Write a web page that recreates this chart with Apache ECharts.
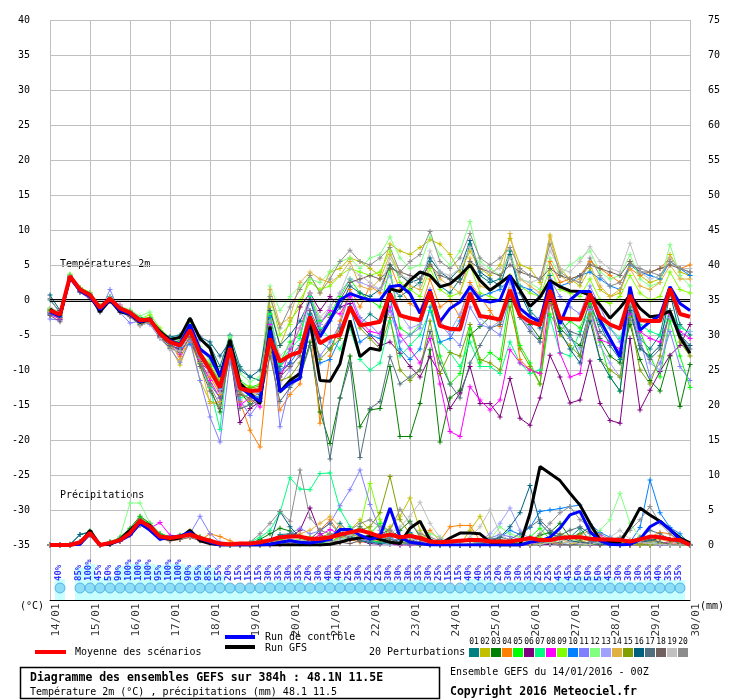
<!DOCTYPE html>
<html lang="fr">
<head>
<meta charset="UTF-8">
<title>Diagramme des ensembles GEFS</title>
<style>
  html, body { margin: 0; padding: 0; background: #fff; }
  #chart { width: 740px; height: 700px; }
</style>
</head>
<body>
<div id="chart"></div>
<script src="https://cdn.jsdelivr.net/npm/echarts@6/dist/echarts.min.js"></script>
<script>
// 6-hourly steps, 14/01 00Z -> 30/01 00Z (65 points)
const DAYS = ['14/01','15/01','16/01','17/01','18/01','19/01','20/01','21/01','22/01',
              '23/01','24/01','25/01','26/01','27/01','28/01','29/01','30/01'];

// temperature 2m (°C)
const T_MEAN = [-1.5,-2.1,3.4,1.5,0.7,-1.1,0.2,-1.2,-1.8,-2.9, -2.8,-4.8,-6.0,-6.5,-4.3,-7.7,-10.0,-12.5,-6.9,-12.6,
  -13.0,-12.9,-5.5,-8.8,-7.9,-7.4,-2.4,-6.2,-5.3,-5.0, -1.0,-3.6,-3.4,-3.1,0.9,-2.2,-2.6,-2.9,1.2,-3.7,
  -4.1,-4.2,1.0,-2.3,-2.5,-2.8,1.4,-2.2,-3.1,-3.6, 1.4,-2.6,-2.7,-2.8,0.9,-2.4,-3.5,-4.1,0.7,-2.9, -3.0,-3.0,1.6,-2.0,-2.4];
const T_GFS = [-1.3,-2.3,3.3,1.5,0.8,-1.7,0.0,-1.7,-2.0,-3.2, -2.8,-4.5,-5.7,-5.3,-2.6,-5.5,-6.9,-11.0,-5.7,-11.9,
  -13.3,-14.8,-3.8,-13.1,-11.5,-10.5,-2.9,-11.5,-11.6,-9.1, -2.9,-8.1,-6.9,-7.2,1.6,1.2,2.8,4.0,3.5,1.9,
  2.3,3.5,5.0,2.8,1.4,2.4,3.5,1.4,-0.9,0.4, 2.8,1.9,1.3,1.2,0.7,-0.7,-2.6,-1.1,0.7,-1.2, -2.4,-2.2,-1.6,-5.3,-7.6];
const T_CTRL = [-1.7,-2.3,3.2,1.3,0.5,-1.4,0.0,-1.5,-2.0,-3.1, -2.7,-4.9,-5.8,-6.3,-3.5,-7.0,-8.1,-10.9,-6.7,-12.4,
  -13.6,-14.5,-4.3,-13.1,-11.9,-11.2,-2.4,-5.3,-2.9,0.0, 0.9,0.4,0.0,0.0,1.9,2.1,0.9,-1.9,1.4,-3.1,
  -1.2,-0.3,1.9,0.0,-0.3,0.0,3.5,-1.2,-2.4,-3.1, 2.6,-3.4,0.0,1.2,1.2,-2.9,-5.5,-8.1,1.9,-4.3, -3.1,-2.2,1.9,-0.5,-1.5];

// precipitation (mm)
const P_MEAN = [0.0,0.0,0.0,0.4,1.7,0.0,0.3,0.7,1.7,3.5, 2.6,1.2,1.0,1.2,1.5,1.0,0.6,0.2,0.1,0.2,
  0.2,0.4,0.7,1.1,1.2,1.2,0.9,0.9,1.1,1.5, 1.8,2.1,1.7,1.2,1.5,1.1,1.3,1.0,0.5,0.4,
  0.5,0.6,0.7,0.7,0.5,0.5,0.5,0.7,1.0,0.7, 0.7,1.0,1.1,1.1,0.9,0.8,0.8,0.7,0.5,0.8, 1.2,1.1,0.8,0.7,0.0];
const P_GFS = [0,0,0,0.2,2.1,0,0.1,0.8,2.1,3.4, 2.8,1.1,0.8,1.0,2.1,0.6,0.2,0,0,0, 0,0,
  0,0,0,0,0,0,0.1,0.4,0.8,1.0, 1.2,0.8,0.4,0.2,2.4,3.4,0.7,0.1,1.0,1.7,
  1.7,1.6,0.4,0,0,0,4.5,11.2,10.2,9.2, 7.4,5.7,3.1,0.7,0.4,0.4,2.6,5.3,4.3,3.4, 2.2,1.0,0.3];
const P_CTRL = [0,0,0,0.1,1.6,0,0.2,0.6,1.4,3.1, 2.1,0.8,1.1,1.3,1.8,0.9,0.4,0,0,0, 0,0,
  0.1,0.4,0.6,0.4,0.3,0.5,0.8,2.2,2.2,1.4, 0.8,1.2,5.3,1.1,0.4,0.2,0,0,0,0,
  0,0,0,0,0,0,0.4,0.6,1.1,2.4, 4.3,4.8,1.9,0.6,0.1,0,0.1,0.8,2.6,3.4, 2.2,0.8,0];

// 20 perturbations, temperature
const T_PERT = [
  [0.0,-1.7,3.3,1.8,1.0,-0.8,0.5,-1.0,-1.5,-2.5,-3.0,-4.4,-5.3,-5.0,-2.8,-5.7,-6.5,-9.5,-5.0,-9.5,-11.0,-11.5,
   -3.0,-9.5,-8.0,-6.5,-2.0,-6.0,-7.0,-4.0,-1.0,-3.5, -2.0,-3.0,2.0,0.5,1.5,2.5,5.5,2.0,1.0,3.0,
   8.0,3.5,2.5,3.0,7.0,1.5,-1.5,-3.0,3.5,-2.5, -5.0,-8.0,-1.0,-3.5,-6.5,-8.5,0.5,-5.5,-7.0,-5.0, 1.5,-3.5,-5.0],
  [-1.9,-2.5,3.1,1.3,0.5,-1.3,-0.1,-1.6,-2.1,-3.4,-3.3,-5.1,-6.7,-9.3,-5.5,-11.5,-14.5,-15.0,-7.5,-13.5,-14.5,-14.0,
   -1.0,-6.5,-3.0,-1.0,3.5,1.0,4.0,4.5,6.0,5.5, 4.5,3.5,8.0,7.0,6.5,7.5,8.6,8.0,6.5,4.0,
   7.0,4.5,3.5,5.0,8.8,5.0,4.5,2.5,9.3,4.5, 3.0,2.0,4.5,1.5,0.5,1.0,5.5,3.5,2.5,3.0, 6.5,4.0,3.5],
  [-1.5,-2.0,3.5,1.6,0.8,-1.2,0.4,-1.1,-1.7,-2.6,-3.1,-5.3,-6.5,-7.1,-4.7,-8.5,-12.5,-16.0,-7.0,-13.0,-15.0,-13.5,
   -6.5,-13.0,-12.0,-11.0,-6.0,-16.0,-20.5,-14.0,-8.0,-18.1, -15.7,-15.5,-9.5,-19.5,-19.5,-14.8,-7.1,-20.3,-14.0,-12.9,
   -5.0,-3.8,-2.4,-3.0,1.0,-2.0,-3.5,-5.5,0.5,-4.0, -5.5,-6.5,-1.5,-5.5,-8.0,-9.0,-3.5,-8.5,-11.5,-13.0, -8.0,-15.2,-9.2],
  [-1.8,-2.6,3.2,1.4,0.6,-1.0,0.1,-1.4,-1.9,-3.0,-2.9,-4.9,-6.3,-8.1,-6.0,-9.1,-11.0,-13.5,-8.0,-14.5,-18.6,-21.0,
   -7.0,-15.7,-13.5,-12.0,-3.0,-17.6,-8.0,-3.0,1.5,-1.0, 2.0,1.0,5.0,1.5,-0.5,-1.5,3.0,-1.0,0.0,-2.5,
   2.5,0.5,-1.5,-3.8,1.5,-8.5,-10.0,-10.5,5.5,2.5, 3.0,3.5,5.5,4.5,3.5,2.5,4.5,3.5,4.0,4.5, 6.0,4.5,5.0],
  [-1.3,-1.9,3.6,1.7,0.9,-0.9,0.3,-1.0,-1.6,-2.7,-2.5,-4.6,-5.7,-6.0,-3.5,-7.5,-9.5,-12.0,-6.0,-11.5,-12.5,-12.0,
   -2.0,-9.0,-6.0,-5.0,0.5,-3.0,-2.0,0.5,3.0,1.0, 0.0,-1.0,4.5,-4.0,-5.0,-3.5,0.5,-8.0,-12.0,-10.5,
   -4.0,-9.0,-7.5,-8.5,0.5,-6.5,-9.0,-12.0,-2.0,-4.5, -3.0,-4.0,-0.5,-6.0,-11.0,-13.0,-1.0,-4.5,-8.0,-11.0, -3.0,-8.0,-12.5],
  [-1.7,-2.8,3.3,1.4,0.6,-1.4,-0.2,-1.5,-2.3,-3.2,-3.0,-5.1,-6.5,-7.0,-4.9,-8.8,-10.3,-13.0,-7.5,-17.5,-15.5,-14.5,
   -5.5,-10.5,-9.0,-1.0,1.0,-1.5,0.5,-1.0,-0.5,-3.5, -5.0,-6.5,-6.0,-7.6,-9.5,-11.0,-8.1,-10.5,-15.5,-13.3,
   -9.5,-14.8,-14.8,-16.7,-11.2,-16.9,-17.9,-14.0,-7.9,-11.0, -14.7,-14.3,-8.7,-14.8,-17.2,-17.6,-5.5,-15.7,-12.9,-10.2, -7.9,-6.5,-3.5],
  [-1.6,-2.2,3.4,1.5,0.7,-1.1,0.3,-1.2,-1.7,-2.8,-2.7,-4.7,-5.9,-6.7,-3.8,-9.0,-12.5,-18.5,-5.3,-14.0,-13.5,-12.5,
   -2.0,-9.0,-7.0,-5.5,0.5,-4.0,-5.5,-7.0,-4.0,-8.5, -10.0,-9.0,-3.0,-8.0,-6.5,-5.0,-1.5,-6.0,-7.5,-9.5,
   -6.0,-9.5,-9.5,-10.5,-6.0,-9.0,-10.5,-10.0,-2.5,-7.5, -8.0,-4.5,-1.5,-3.0,-4.0,-5.5,-1.0,-3.5,-4.5,-5.0, -1.5,-4.0,-4.5],
  [-2.1,-2.7,3.0,1.2,0.4,-1.2,0.0,-0.7,-1.9,-3.1,-2.9,-5.2,-6.1,-7.7,-5.3,-8.5,-11.5,-14.0,-7.7,-15.0,-14.0,-15.3,
   -3.5,-11.5,-7.0,-4.0,0.0,-3.5,-1.5,-2.0,0.5,-3.0, -4.5,-4.8,-1.0,-5.0,-7.0,-9.0,-5.5,-12.0,-18.8,-19.5,
   -12.4,-14.3,-15.7,-14.3,-7.1,-9.0,-10.0,-10.5,0.5,-7.6, -11.0,-10.5,-1.4,-5.7,-6.2,-7.0,-2.0,-4.5,-5.5,-6.0, -2.0,-4.5,-5.5],
  [-1.2,-1.8,3.7,1.8,1.1,-0.8,0.2,-1.3,-1.5,-2.7,-2.1,-4.0,-5.5,-5.7,-4.0,-6.7,-8.7,-11.5,-5.7,-12.0,-12.3,-13.0,
   0.5,-5.0,-3.5,0.0,2.5,1.5,2.0,3.5,4.5,4.0, 3.5,4.0,7.0,2.5,1.5,0.5,4.5,1.5,0.5,1.0,
   5.0,1.0,0.5,0.0,3.5,2.0,1.0,0.5,4.5,1.5, 1.0,0.5,3.0,0.0,-0.5,0.5,3.5,1.0,0.0,0.5, 4.0,1.5,1.0],
  [-2.0,-2.4,3.1,1.3,0.5,-1.3,0.1,-1.4,-1.9,-3.0,-2.8,-5.0,-6.2,-6.8,-6.3,-8.0,-10.3,-12.7,-7.3,-12.5,-13.3,-14.0,
   -2.5,-10.0,-9.0,-7.0,-1.5,-9.0,-8.5,-5.5,-1.0,-6.0, -5.0,-5.5,0.5,-7.0,-8.5,-7.0,-1.0,-6.0,-5.5,-3.0,
   1.0,0.5,1.0,1.5,3.0,2.0,1.5,0.5,2.5,2.0, 2.5,3.5,4.0,3.0,2.0,1.5,5.0,4.0,3.5,3.0, 5.5,4.5,3.5],
  [-2.7,-2.9,3.5,1.1,0.1,-1.7,1.5,-1.8,-3.3,-3.0,-3.5,-5.5,-6.9,-8.9,-5.9,-11.5,-16.7,-20.3,-8.8,-14.3,-16.5,-14.5,
   -4.0,-18.1,-12.0,-10.0,-4.5,-8.0,-6.0,-3.5,1.0,-2.5, -3.5,-5.0,-1.5,-6.0,-5.0,-4.0,1.5,-3.5,-5.0,-6.5,
   -1.0,-3.5,-4.0,-5.0,0.5,-2.5,-4.0,-2.5,3.0,0.5, -1.0,-2.0,2.0,-1.0,-4.0,-6.0,-2.5,-5.5,-11.0,-9.0, -4.5,-9.5,-11.5],
  [-1.4,-2.0,3.5,1.6,0.8,-1.0,0.4,-0.9,-1.4,-2.3,-1.7,-4.4,-5.4,-5.7,-3.3,-7.0,-8.5,-11.0,-5.3,-10.5,-11.7,-11.0,
   2.0,-1.5,0.5,2.0,3.0,2.5,4.0,5.5,6.0,4.5, 6.0,6.5,9.0,6.0,4.5,5.0,9.0,6.5,5.0,7.0,
   11.2,5.5,4.5,3.5,6.5,3.0,2.5,1.5,6.0,3.5, 5.0,6.0,7.0,4.0,3.0,3.5,6.5,3.0,2.0,2.5, 7.9,3.5,2.0],
  [-1.8,-2.3,3.3,1.4,0.6,-1.1,0.2,-1.3,-1.8,-2.9,-2.7,-4.8,-6.0,-6.6,-4.5,-7.9,-10.1,-12.8,-7.0,-12.7,-13.5,-13.3,
   -5.0,-12.0,-10.0,-7.5,0.0,-3.5,-1.0,1.0,3.0,2.5, 2.0,1.5,3.5,-2.0,-4.0,-3.5,1.0,-3.0,-4.5,-2.0,
   2.0,-2.5,-4.0,-3.0,2.5,-2.0,-4.0,-6.0,1.0,-3.0, -5.5,-7.0,-1.5,-6.5,-9.0,-11.0,0.0,-6.0,-9.0,-10.0, -2.5,-5.0,-4.5],
  [-1.6,-2.1,3.4,1.5,0.7,-1.1,0.1,-1.2,-1.8,-2.9,-2.8,-4.8,-6.0,-8.5,-5.0,-8.9,-14.8,-14.5,-8.3,-13.3,-14.1,-12.7,
   1.5,-3.5,-2.5,2.5,4.0,3.0,2.5,3.5,5.5,2.0, 1.5,3.0,6.5,4.0,2.0,1.5,5.0,3.0,2.0,1.0,
   6.0,2.0,1.5,2.5,9.5,3.0,2.0,1.0,9.0,3.5, 2.5,3.0,5.0,2.0,0.5,1.5,4.5,2.0,1.5,2.5, 5.0,3.0,3.0],
  [-1.4,-2.2,3.2,1.6,0.8,-1.0,0.3,-1.1,-1.7,-2.8,-2.6,-4.5,-5.8,-6.2,-3.9,-7.3,-9.3,-11.7,-6.4,-12.3,-12.6,-12.3,
   -6.0,-11.5,-11.0,-9.0,-3.5,-8.5,-7.0,-5.5,-1.5,-4.0, -5.5,-7.0,-2.5,-10.0,-11.5,-10.0,-3.0,-10.5,-7.5,-8.0,
   -3.5,-8.5,-9.0,-10.0,-1.0,-7.0,-9.5,-12.0,-0.5,-5.0, -6.5,-8.0,-2.0,-8.5,-10.0,-11.0,-2.5,-10.0,-12.0,-8.0, -1.5,-6.0,-8.0],
  [0.7,-1.5,3.4,1.5,0.6,-1.5,0.1,-1.1,-1.8,-3.0,-2.9,-4.7,-5.3,-5.5,-2.9,-5.3,-6.0,-8.0,-5.9,-10.0,-11.0,-10.0,
   -1.5,-6.5,-5.0,-3.0,0.0,-4.5,-3.0,-1.0,2.0,1.0, 0.5,1.5,5.0,3.5,2.5,3.0,6.0,4.0,3.0,4.5,
   8.5,4.0,3.0,2.0,6.5,1.0,-2.0,-4.0,2.0,-4.5, -7.0,-9.0,-3.0,-8.5,-11.0,-13.0,-1.5,-7.0,-8.0,-6.5, 1.0,-5.0,-6.5],
  [-1.9,-2.5,3.2,1.3,0.5,-1.7,-0.1,-1.5,-2.0,-3.5,-3.1,-5.1,-6.5,-7.1,-5.0,-9.1,-12.0,-14.0,-8.1,-15.5,-15.0,-14.3,
   -8.0,-14.5,-12.5,-11.0,-6.5,-14.0,-22.7,-14.0,-9.0,-22.5, -15.5,-14.5,-8.1,-12.0,-11.0,-10.0,-4.5,-9.0,-12.0,-14.0,
   -9.0,-6.5,-4.0,-3.5,0.5,-2.5,-4.5,-6.0,1.5,-3.0, -4.5,-5.0,0.0,-4.5,-6.0,-7.5,-1.0,-6.5,-8.5,-7.0, -1.5,-5.0,-7.0],
  [-2.2,-3.1,3.0,1.1,0.3,-1.6,-0.2,-1.7,-2.4,-3.6,-3.2,-5.3,-6.9,-7.5,-5.3,-9.5,-13.0,-15.5,-7.5,-13.5,-14.0,-14.1,
   -4.0,-11.0,-9.5,-8.0,-1.5,-4.5,-2.5,0.0,2.5,3.0, 3.5,3.0,4.5,4.0,3.5,3.0,5.0,3.5,3.0,2.5,
   5.5,4.5,4.0,3.5,5.0,4.0,3.5,3.0,4.5,3.5, 3.0,3.5,5.0,4.5,4.0,3.5,5.5,4.0,4.0,4.5, 5.0,4.5,4.0],
  [-1.1,-1.7,3.5,1.7,1.0,-0.9,0.4,-0.8,-2.0,-3.7,-3.1,-5.5,-7.1,-7.3,-4.8,-8.3,-10.5,-13.3,-6.5,-12.7,-13.4,-12.5,
   -3.0,-8.0,-6.5,-4.0,1.0,-2.5,-1.0,1.0,4.5,3.5, 2.5,1.5,6.0,3.5,3.0,2.0,7.0,4.0,3.5,4.5,
   7.5,5.0,4.0,4.5,6.0,3.0,2.5,3.0,7.0,4.5, 4.0,5.5,7.6,5.5,4.5,4.0,8.1,4.0,3.0,3.5, 6.0,4.5,4.5],
  [0.2,-1.9,3.4,1.6,0.7,-1.3,0.2,-1.0,-1.6,-2.8,-2.7,-4.6,-5.5,-5.8,-4.1,-8.3,-12.3,-15.0,-6.2,-13.0,-14.3,-13.1,
   0.5,-4.0,-1.0,1.5,3.5,1.0,3.0,5.5,7.1,5.5, 5.0,6.0,7.5,4.0,5.5,6.5,9.8,5.5,4.5,6.0,
   9.5,6.0,5.0,6.0,7.5,4.5,3.5,3.0,8.0,4.0, 3.0,2.5,6.0,3.5,2.0,2.5,5.0,4.5,4.0,3.5, 5.5,4.5,4.0]
];

// 20 perturbations, precipitation
const P_PERT = [
  [0,0,0,1.5,1.8,0,0.1,0.6,1.6,3.1,2.4,1.1,0.8,1.1,1.4,0.8,0.4,0,0,0,0,0.2,
   0.6,1.5,1.6,1.1,0.4,0.2,0.8,3.1,1.6,1.1,0.8,0.4,0.1,0,0.4,1.1,0.2,0,0,0,
   0.1,0,0,0,0,0.4,1.1,0.4,0.1,0.4,1.1,2.4,0.6,0.2,0,0,0,0.4,0.8,0.4,0.1,0,0],
  [0,0,0,0.2,1.6,0,0.2,0.8,2.0,3.8,2.6,1.4,1.0,0.8,2.1,1.2,0.8,0.2,0,0,0,0,
   0.1,0.4,0.8,0.5,0.1,0.2,0.4,1.1,2.1,3.6,2.1,1.1,2.6,4.1,6.7,2.1,0.4,0.1,0,0,
   2.1,4.1,1.1,0.4,0.1,0,0.2,0.4,0.2,0,0.1,0.4,0.8,0.2,0,0.1,0.6,1.1,0.4,0.2,0,0,0],
  [0,0,0,0.5,2.0,0,0.4,1.1,2.4,4.1,3.1,1.6,1.2,1.4,1.8,1.1,0.6,0.1,0,0,0.1,0.8,
   1.6,2.4,2.0,1.1,0.6,0.4,0.2,1.4,0.8,1.1,0.6,0.4,1.1,2.1,3.4,1.2,0.6,0.1,0,0,
   0,0.1,0.4,0.2,0,0,0.4,1.4,1.8,3.1,1.1,1.6,2.6,0.8,0.2,0,0,0.1,0.4,1.1,0.8,0.4,0],
  [0,0,0.1,0.3,1.4,0,0.1,0.5,1.4,2.8,2.2,1.0,0.6,0.8,1.1,0.7,1.6,1.2,0.6,0.1,0,0,
   0.2,0.6,1.1,1.4,0.8,2.1,3.6,1.6,0.8,0.4,0.6,1.4,0.8,0.4,0.1,0.4,2.1,0.6,2.6,2.8,
   2.8,0.6,0.2,0,0,0.1,0.4,0.2,0.4,0.8,0.4,0.2,0.1,0,0.4,0.6,0.2,0,1.1,1.8,1.6,0.4,0],
  [0,0,0,0.4,1.9,0.1,0.5,1.0,2.2,4.0,3.0,1.6,1.1,1.4,1.6,1.0,0.5,0.1,0,0,0,0.1,
   0.4,0.8,0.4,0.2,1.1,0.4,1.1,2.1,1.4,0.8,1.6,3.1,1.1,0.4,0.1,0,0,0,0,0,
   0,0,0,0.1,0.2,0.4,1.1,2.4,0.8,0.2,0,0,0.1,0.4,0.2,0,0,0.4,0.8,0.2,0.4,1.1,0],
  [0,0,0,0.3,1.6,0,0.2,0.6,1.6,3.2,2.8,1.2,0.8,0.9,1.2,0.7,0.3,0,0,0,0,0.1,
   0.4,0.6,1.1,2.1,5.3,1.6,0.6,0.4,1.1,0.6,0.2,0.1,0.4,0.1,0,0,0.1,0,0,0,
   0,0,0,0,0,0,0,0,0.1,0,0,0,0,0,0,0,0,0,0,0,0,0,0],
  [0,0,0,0.4,1.8,0,0.3,0.8,1.8,3.4,2.6,1.3,0.9,1.1,1.4,0.9,0.5,0.1,0,0,0.4,1.1,
   2.1,4.6,9.6,8.0,7.9,10.2,10.3,5.1,2.6,1.1,0.6,0.4,0.2,0.1,0,0.2,0.1,0,0,0,
   0,0,0,0.2,0.4,0.1,0,0.1,0.4,0.2,0,0,0.1,0.3,0.1,0,0,0,0,0.1,0,0,0],
  [0,0,0,0.2,1.5,0,0.1,0.6,1.6,3.0,2.4,3.2,1.4,1.0,1.3,0.8,0.4,0,0,0,0,0,
   0,0.1,0.2,0.4,0.8,1.4,2.2,1.6,0.8,1.1,0.4,0.2,0.1,0,0,0.1,0.2,0.4,0,0,
   0,0,0,0.1,0.2,0,0,0.4,0.6,0.2,0,0,0.1,1.4,0.4,0,0,0,0,0.2,0.4,0.1,0],
  [0,0,0,0.3,1.7,0,0.3,0.9,1.9,3.6,2.7,1.2,0.9,1.1,1.4,0.9,0.5,0.1,0,0,0,0,
   0.2,0.4,0.6,0.8,1.1,0.6,0.4,1.1,1.6,2.6,8.8,3.6,1.6,0.8,0.4,0.2,0.1,0,0,0,
   0,0.1,0,0,0,0.2,0.6,1.1,0.4,0.1,0,0,0.1,0.2,0.8,0.4,0.1,0,0,0.2,0,0,0],
  [0,0,0,0.4,1.6,0,0.2,0.7,1.6,3.2,2.5,1.1,0.9,1.1,1.3,0.8,0.4,0,0,0,0,0.1,
   0.5,1.1,0.8,0.4,0.2,0.1,0.4,0.8,1.1,0.8,0.4,0.2,0.4,1.1,1.8,0.8,0.4,0.1,0,0,
   0,0.2,0.6,1.1,2.1,1.5,2.5,4.8,5.0,5.2,5.5,5.7,3.0,1.8,1.1,0.6,0.4,2.5,9.3,4.6,2.5,1.6,0.1],
  [0,0,0,0.2,1.4,0,0.1,0.6,1.6,3.1,2.4,1.1,0.8,1.0,1.6,4.1,1.6,0.4,0,0,0,0.2,
   0.6,1.1,1.6,2.4,1.6,2.0,3.1,5.6,7.9,10.7,5.8,2.1,1.1,0.4,0.2,0.4,0.6,0.2,0,0,
   0,0.4,1.0,1.5,1.2,0.8,0.6,0.4,0.2,0,0,0.1,0.4,0.2,0,0,0.1,0.4,0.2,0,0,0,0],
  [0,0,0,0.4,2.0,0,0.4,1.1,6.0,6.0,3.1,1.4,1.1,1.3,1.6,1.0,0.6,0.1,0,0,0,0,
   0.2,0.4,0.6,0.8,0.4,0.2,0.4,0.8,1.1,0.6,0.4,0.2,0.1,0.4,0.8,1.1,1.6,1.1,0.4,0.1,
   0.2,0.4,0.8,2.6,1.6,1.1,0.6,0.4,0.2,0.1,0.4,0.8,1.1,2.1,3.6,7.4,3.1,1.1,0.4,0.2,0.1,0,0],
  [0,0,0,0.3,1.7,0,0.3,0.7,1.7,3.3,2.6,1.2,0.9,1.1,1.4,0.9,0.5,0.1,0,0,0,0,
   0.2,0.4,0.2,0.1,0.4,0.8,1.4,2.1,1.4,0.8,0.4,0.2,0.1,0.6,1.1,0.4,0.1,0,0,0,
   0.1,0.6,1.6,3.1,5.3,2.1,0.8,0.4,0.2,0.1,0.4,0.6,0.2,0.1,0,0,0.1,0.4,0.6,0.2,0,0,0],
  [0,0,0,0.3,1.8,0,0.2,0.7,1.8,3.4,2.6,1.2,0.9,1.1,1.5,0.9,0.5,0.1,0,0,0,0.1,
   0.4,0.6,1.1,1.6,2.1,3.1,4.1,2.6,1.6,1.1,0.8,0.6,0.4,0.2,0.6,1.4,0.8,0.4,0.2,0.1,
   0.2,0.4,0.2,0.1,0,0.1,0.4,0.8,0.4,0.2,0.6,1.4,2.1,1.1,0.4,0.2,0,0.1,0.4,0.8,0.4,0.1,0],
  [0,0,0,0.3,1.6,0,0.3,0.8,1.7,3.2,2.5,1.1,0.8,1.1,1.4,0.8,0.4,0,0,0,0,0,
   0.1,0.2,0.4,0.6,0.8,1.1,1.6,1.1,1.1,2.1,2.6,4.6,9.8,3.6,1.6,0.8,0.4,0.2,0,0,
   0,0.1,0.4,0.8,0.4,0.1,0,0.2,0.8,1.6,1.1,0.6,0.2,0.1,0.4,0.6,0.2,0.1,0,0.2,0.1,0,0],
  [0,0,0.1,1.5,1.9,0,0.4,0.9,2.0,3.7,2.8,1.4,1.0,1.2,1.6,1.0,0.6,0.1,0,0,0,0.1,
   0.4,4.8,2.6,1.1,0.6,0.4,0.8,1.6,1.1,0.6,0.4,0.2,0.4,0.8,0.4,0.1,0,0,0,0,
   0,0.1,0.4,1.1,2.6,4.6,8.5,3.1,1.6,1.1,0.6,0.4,0.2,0.1,0,0,0.1,0.4,0.6,1.1,0.8,0.2,0],
  [0,0,0,0.2,1.5,0,0.1,0.6,1.5,3.0,2.4,1.0,0.7,0.9,1.2,0.7,0.3,0,0,0,0,0.1,
   0.6,1.1,1.6,1.1,0.8,2.1,3.1,1.6,1.1,2.6,1.6,1.1,0.8,0.4,0.2,0.1,0.4,0.8,0.2,0,
   0.1,0.4,0.8,1.1,0.8,1.6,2.6,3.6,2.1,1.4,2.1,2.6,1.6,0.8,0.4,0.2,0.4,1.1,2.1,1.6,0.8,0.2,0],
  [0,0,0,0.2,1.4,0,0.1,0.5,1.4,2.8,2.2,0.9,0.6,0.8,1.1,0.6,0.2,0,0,0,0,0,
   0,0.1,0.2,0.4,0.6,0.8,0.6,0.4,0.2,0.6,1.1,1.6,2.1,1.1,0.6,0.4,0.1,0,0,0,
   0,0,0,0.2,0.4,0.6,0.8,0.4,0.2,0.1,0,0.2,0.4,0.6,0.4,0.2,0.1,0.4,0.8,0.4,0.1,0,0],
  [0,0,0,0.2,1.4,0,0.2,0.6,1.4,2.8,2.2,1.0,0.7,0.9,1.2,0.7,0.3,0,0,0,0,0,
   0.1,0.2,0.4,0.6,0.8,0.6,0.4,0.8,1.4,2.1,1.6,1.1,1.6,2.6,4.1,6.1,3.1,1.1,0.4,0.1,
   1.1,2.6,5.0,1.6,0.6,0.4,0.2,0.1,0.4,0.8,0.4,0.2,0.1,0.4,1.1,2.1,0.8,0.4,0.2,0.1,0,0,0],
  [0,0,0,0.2,1.6,0,0.3,0.8,1.8,3.6,2.8,1.3,1.0,1.2,1.5,0.9,0.5,0.1,0,0,0.4,1.6,
   3.1,4.8,3.4,10.7,3.9,2.1,1.6,1.1,2.1,3.1,3.6,2.6,2.1,5.1,3.1,1.6,1.1,0.6,0.2,0,
   0.1,0.4,0.2,0.1,0,0.2,0.6,1.6,3.1,4.6,5.5,3.6,2.6,1.6,0.8,1.1,2.1,3.6,5.5,3.1,1.6,0.6,0]
];

const PERT_COLORS = ['#008080','#c0c000','#008000','#ff8000','#00ff00','#800080','#00ff80','#ff00ff','#80ff00','#0080ff',
                     '#8080ff','#80ff80','#a0a0ff','#e0b040','#80a000','#006080','#507080','#706060','#c0c0c0','#8c8c8c'];

// snow probability (%) per 6h step, null = none
const SNOW_PCT = [null,40,null,85,100,45,50,90,100,100,100,95,100,100,90,95,85,55,20,15,15,
  15,30,35,30,35,20,30,40,40,25,30,25,25,30,30,30,35,30,25,15,15,40,
  40,35,20,30,30,35,25,25,45,45,50,50,50,45,30,30,30,35,40,35,35,null];

const MONO = '"DejaVu Sans Mono", "Liberation Mono", monospace';
const PLUS = 'path://M2,0h1v2h2v1h-2v2h-1v-2h-2v-1h2z';
const GRID_C = '#c0c0c0';

const xy = arr => arr.map((v, k) => [k, v]);

const member = (data, color, yIdx) => ({
  type: 'line', xAxisIndex: 0, yAxisIndex: yIdx, data: xy(data),
  symbol: PLUS, symbolSize: 5, showSymbol: true,
  lineStyle: { width: 1, color }, itemStyle: { color },
  silent: true, z: 2
});
const thick = (data, color, width, yIdx, z) => ({
  type: 'line', xAxisIndex: 0, yAxisIndex: yIdx, data: xy(data),
  symbol: 'none', lineStyle: { width, color }, itemStyle: { color },
  silent: true, z
});

const series = [];
T_PERT.forEach((d, i) => series.push(member(d, PERT_COLORS[i], 0)));
P_PERT.forEach((d, i) => series.push(member(d, PERT_COLORS[i], 1)));

const gfsT = thick(T_GFS, '#000000', 3, 0, 4);
gfsT.markLine = {
  silent: true, symbol: 'none', label: { show: false },
  lineStyle: { color: '#000', width: 1, type: 'solid' },
  data: [{ yAxis: 0.16 }, { yAxis: -0.14 }]
};
series.push(gfsT, thick(P_GFS, '#000000', 3, 1, 4));
series.push(thick(T_CTRL, '#0000ff', 3, 0, 5), thick(P_CTRL, '#0000ff', 3, 1, 5));
series.push(thick(T_MEAN, '#ff0000', 4, 0, 6), thick(P_MEAN, '#ff0000', 4, 1, 6));

// snow strip (grid 1), y unit = 0.25 px
const snowK = SNOW_PCT.map((p, k) => (p == null ? -1 : k)).filter(k => k >= 0);
series.push({
  type: 'bar', xAxisIndex: 1, yAxisIndex: 2, stack: 'snow', barWidth: 10, silent: true,
  itemStyle: { color: 'rgba(0,0,0,0)' }, data: snowK.map(k => [k, 28])
});
series.push({
  type: 'bar', xAxisIndex: 1, yAxisIndex: 2, stack: 'snow', barWidth: 10, silent: true,
  itemStyle: { color: '#c8ffff' }, data: snowK.map(k => [k, SNOW_PCT[k] + 44])
});
series.push({
  type: 'scatter', xAxisIndex: 1, yAxisIndex: 2, symbol: 'circle', symbolSize: 10, silent: true,
  itemStyle: { color: '#7fd4f5', borderColor: '#3fa6dc', borderWidth: 1 },
  data: snowK.map(k => [k, 48]), z: 3
});
const vertLabel = (color, size, weight) => ({
  show: true, position: 'inside', rotate: 90, align: 'left', verticalAlign: 'middle',
  formatter: p => p.value[2], color, fontFamily: MONO, fontSize: size, fontWeight: weight
});
series.push({
  type: 'scatter', xAxisIndex: 1, yAxisIndex: 2, symbolSize: 1, silent: true,
  itemStyle: { color: 'rgba(0,0,0,0)' },
  data: snowK.map(k => [k - 0.1, 76, SNOW_PCT[k] + '%']), z: 4,
  label: vertLabel('#0000ff', 9, 'bold')
});
// day labels: written bottom-to-top, ending just under the axis line
series.push({
  type: 'scatter', xAxisIndex: 1, yAxisIndex: 2, symbolSize: 1, silent: true, clip: false,
  itemStyle: { color: 'rgba(0,0,0,0)' },
  data: DAYS.map((d, i) => [i * 4 + 0.65, -146, d]), z: 4,
  label: vertLabel('#000', 11, 'normal')
});

// legend / caption graphics
const txt = (text, x, y, size, bold) => ({
  type: 'text', x, y, silent: true,
  style: { text, fill: '#000', font: (bold ? 'bold ' : '') + size + 'px ' + MONO,
           textVerticalAlign: 'middle', verticalAlign: 'middle' }
});

const graphic = [
  txt('Températures 2m', 60, 264, 10),
  txt('Précipitations', 60, 495, 10),
  txt('(°C)', 20, 606, 10),
  txt('(mm)', 700, 606, 10),
  { type: 'rect', silent: true, shape: { x: 225, y: 635, width: 30, height: 4 }, style: { fill: '#0000ff' } },
  txt('Run de contrôle', 265, 637, 10),
  { type: 'rect', silent: true, shape: { x: 225, y: 645, width: 30, height: 4 }, style: { fill: '#000000' } },
  txt('Run GFS', 265, 648, 10),
  { type: 'rect', silent: true, shape: { x: 35, y: 650, width: 31, height: 4 }, style: { fill: '#ff0000' } },
  txt('Moyenne des scénarios', 75, 652, 10),
  txt('20 Perturbations', 369, 652, 10),
  { type: 'rect', silent: true, shape: { x: 20.5, y: 667.5, width: 419, height: 31 },
    style: { fill: 'none', stroke: '#000', lineWidth: 1.5 } },
  txt('Diagramme des ensembles GEFS sur 384h : 48.1N 11.5E', 30, 678, 11.5, true),
  txt('Température 2m (°C) , précipitations (mm) 48.1 11.5', 30, 692, 10),
  txt('Ensemble GEFS du 14/01/2016 - 00Z', 450, 672, 10),
  txt('Copyright 2016 Meteociel.fr', 450, 692, 11.5, true)
];
PERT_COLORS.forEach((c, i) => {
  const x = 469 + i * 11;
  graphic.push({ type: 'rect', silent: true, shape: { x, y: 648, width: 10, height: 9 }, style: { fill: c } });
  graphic.push({
    type: 'text', x: x + 5, y: 642, silent: true,
    style: { text: String(i + 1).padStart(2, '0'), fill: '#000', font: '8px ' + MONO,
             textAlign: 'center', align: 'center', textVerticalAlign: 'middle', verticalAlign: 'middle' }
  });
});

const chart = echarts.init(document.getElementById('chart'));
chart.setOption({
  animation: false,
  backgroundColor: '#ffffff',
  grid: [
    { left: 50, top: 20, width: 640, height: 525 },
    { left: 50, top: 545, width: 640, height: 55 }
  ],
  xAxis: [
    { type: 'value', gridIndex: 0, min: 0, max: 64, interval: 4,
      axisLine: { show: false }, axisTick: { show: false }, axisLabel: { show: false },
      splitLine: { show: true, lineStyle: { color: GRID_C, width: 1 } } },
    { type: 'value', gridIndex: 1, min: 0, max: 64, interval: 4,
      axisLine: { show: true, onZero: false, lineStyle: { color: '#000', width: 1 } },
      axisTick: { show: false }, axisLabel: { show: false },
      splitLine: { show: true, lineStyle: { color: GRID_C, width: 1 } } }
  ],
  yAxis: [
    { type: 'value', gridIndex: 0, min: -35, max: 40, interval: 5, position: 'left',
      axisLine: { show: false }, axisTick: { show: false },
      axisLabel: { margin: 20, color: '#000', fontFamily: MONO, fontSize: 10, padding: [5, 0, 0, 0] },
      splitLine: { show: true, lineStyle: { color: GRID_C, width: 1 } } },
    { type: 'value', gridIndex: 0, min: 0, max: 75, interval: 5, position: 'right',
      axisLine: { show: false }, axisTick: { show: false },
      axisLabel: { margin: 18, color: '#000', fontFamily: MONO, fontSize: 10, padding: [5, 0, 0, 0] },
      splitLine: { show: false } },
    { type: 'value', gridIndex: 1, min: 0, max: 220, show: false,
      splitLine: { show: false } }
  ],
  series,
  graphic
});
</script>
</body>
</html>
